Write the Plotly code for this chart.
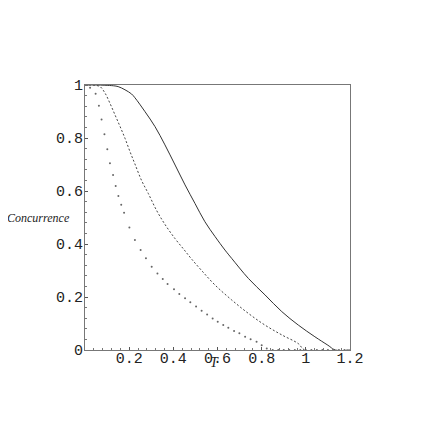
import plotly.graph_objects as go

solid_T = [0.0, 0.05, 0.09, 0.13, 0.15, 0.181, 0.211, 0.226, 0.272, 0.317, 0.362, 0.408,
           0.453, 0.498, 0.543, 0.589, 0.634, 0.664, 0.74, 0.815, 0.891, 0.966, 1.041,
           1.10, 1.134, 1.2]
solid_C = [1.0, 1.0, 0.999, 0.997, 0.994, 0.982, 0.966, 0.952, 0.899, 0.843, 0.774, 0.698,
           0.623, 0.553, 0.484, 0.428, 0.377, 0.346, 0.270, 0.208, 0.145, 0.094, 0.050,
           0.018, 0.0, 0.0]

dashed_T = [0.0, 0.025, 0.045, 0.068, 0.091, 0.113, 0.136, 0.159, 0.181, 0.204, 0.226,
            0.256, 0.287, 0.324, 0.362, 0.408, 0.450, 0.483, 0.528, 0.589, 0.664, 0.74,
            0.815, 0.891, 0.966, 0.995, 1.2]
dashed_C = [1.0, 1.0, 0.999, 0.994, 0.969, 0.931, 0.887, 0.843, 0.799, 0.748, 0.702,
            0.640, 0.590, 0.527, 0.474, 0.420, 0.377, 0.343, 0.300, 0.245, 0.189, 0.138,
            0.094, 0.057, 0.024, 0.0, 0.0]

dotted_T = [0.01, 0.023, 0.048, 0.063, 0.075, 0.088, 0.101, 0.113, 0.127, 0.139, 0.151,
            0.164, 0.177, 0.201, 0.226, 0.252, 0.276, 0.302, 0.328, 0.352, 0.374, 0.403,
            0.427, 0.453, 0.477, 0.503, 0.528, 0.553, 0.578, 0.601, 0.626, 0.649, 0.675,
            0.699, 0.725, 0.75, 0.777, 0.8, 0.823, 0.85, 0.875, 0.9, 0.925, 0.95, 0.975,
            1.0, 1.025, 1.05, 1.075, 1.1, 1.125, 1.15, 1.175]
dotted_C = [1.0, 0.99, 0.967, 0.922, 0.870, 0.814, 0.758, 0.705, 0.660, 0.619, 0.581,
            0.548, 0.518, 0.462, 0.415, 0.377, 0.346, 0.314, 0.289, 0.268, 0.249, 0.229,
            0.211, 0.195, 0.180, 0.164, 0.148, 0.134, 0.119, 0.107, 0.094, 0.084, 0.072,
            0.063, 0.050, 0.041, 0.031, 0.018, 0.006, 0.0, 0.0, 0.0, 0.0, 0.0, 0.0,
            0.0, 0.0, 0.0, 0.0, 0.0, 0.0, 0.0, 0.0]

x_ticks = [0.2, 0.4, 0.6, 0.8, 1.0, 1.2]
x_labels = ["0.2", "0.4", "0.6", "0.8", "1", "1.2"]
y_ticks = [0, 0.2, 0.4, 0.6, 0.8, 1.0]
y_labels = ["0", "0.2", "0.4", "0.6", "0.8", "1"]

mono = "Liberation Mono"
serif = "Liberation Serif"

fig = go.Figure()
fig.add_trace(go.Scatter(x=solid_T, y=solid_C, mode="lines", line_shape="spline",
                         line=dict(color="#333333", width=1, smoothing=1.0), cliponaxis=False))
fig.add_trace(go.Scatter(x=dashed_T, y=dashed_C, mode="lines", line_shape="spline",
                         line=dict(color="#444444", width=1, dash="2px,2px", smoothing=1.0),
                         cliponaxis=False))
fig.add_trace(go.Scatter(x=dotted_T, y=dotted_C, mode="markers",
                         marker=dict(color="#666666", size=2, line_width=0), cliponaxis=False))

axis_common = dict(
    showgrid=False, zeroline=False, showline=True, linecolor="#777777", linewidth=1,
    mirror=True, ticks="inside", ticklen=3, tickcolor="#555555",
    tickfont=dict(family=mono, size=15, color="#222222"),
)
fig.update_xaxes(axis_common, range=[0, 1.2], tickvals=x_ticks, ticktext=x_labels,
                 ticklabelstandoff=-6,
                 minor=dict(ticks="inside", ticklen=2, dtick=0.04, tick0=0, tickcolor="#777777"))
fig.update_yaxes(axis_common, range=[0, 1], tickvals=y_ticks, ticktext=y_labels,
                 ticklabelstandoff=-2,
                 minor=dict(ticks="inside", ticklen=2, dtick=0.04, tick0=0, tickcolor="#777777"))

fig.add_annotation(text="Concurrence", xref="paper", yref="paper", x=-0.174, y=0.5,
                   xanchor="center", yanchor="middle", showarrow=False,
                   font=dict(family=serif, size=12, color="#222222", style="italic"))
fig.add_annotation(text="T", xref="paper", yref="paper", x=0.49, y=-0.048,
                   xanchor="center", yanchor="middle", showarrow=False,
                   font=dict(family=serif, size=14, color="#222222", style="italic"))

# page body has an 8px margin, so the figure is shifted by that much
fig.update_layout(
    width=428, height=428, showlegend=False,
    margin=dict(l=77, r=86, t=77, b=86),
    paper_bgcolor="white", plot_bgcolor="white",
)

fig.write_html("out.html")
